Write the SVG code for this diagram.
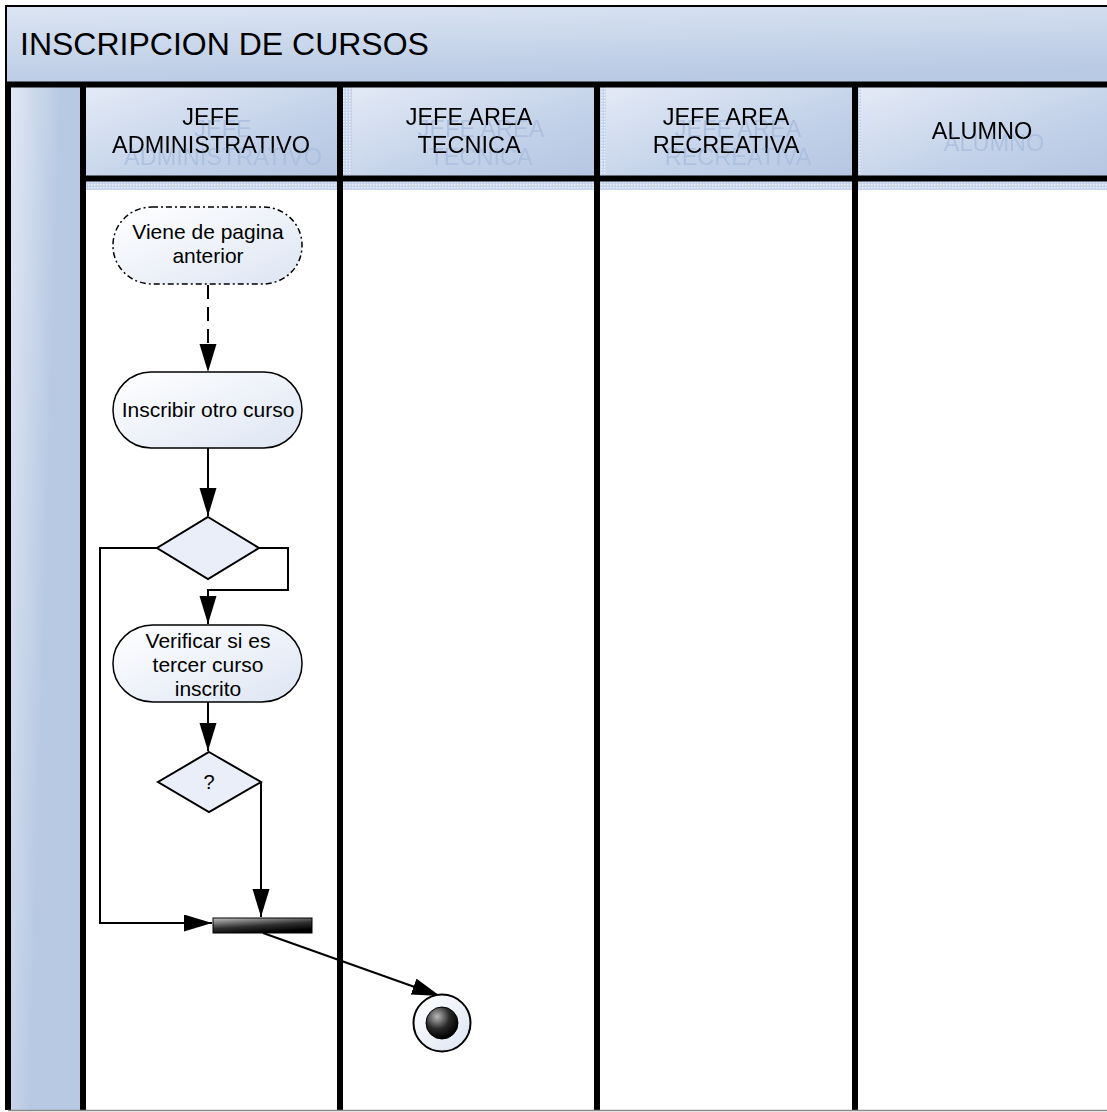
<svg xmlns="http://www.w3.org/2000/svg" width="1107" height="1112" viewBox="0 0 1107 1112">
  <style>
    .hdr { font-family: "Liberation Sans", Arial, sans-serif; font-size: 23.5px; fill: #000; text-anchor: middle; }
    .lbl { font-family: "Liberation Sans", Arial, sans-serif; font-size: 21px; fill: #000; text-anchor: middle; }
    .node { fill: url(#nodeFill); stroke: #000; stroke-width: 1.5; }
    .dia { fill: #e9eef8; stroke: #000; stroke-width: 2; }
    .conn { fill: none; stroke: #000; stroke-width: 2; }
    .div { stroke: #000; stroke-width: 6; }
  </style>
  <defs>
    <linearGradient id="hdrFill" x1="0" y1="0" x2="1" y2="1">
      <stop offset="0" stop-color="#e4eaf6"/>
      <stop offset="0.6" stop-color="#c3d2e9"/>
      <stop offset="1" stop-color="#b5c6e2"/>
    </linearGradient>
    <linearGradient id="titleFill" x1="0" y1="0" x2="0.3" y2="1">
      <stop offset="0" stop-color="#dce5f3"/>
      <stop offset="1" stop-color="#b9cae4"/>
    </linearGradient>
    <linearGradient id="colFill" x1="0" y1="0" x2="0.6" y2="0.25">
      <stop offset="0" stop-color="#e2e9f5"/>
      <stop offset="1" stop-color="#b8c9e3"/>
    </linearGradient>
    <linearGradient id="nodeFill" x1="0" y1="0" x2="1" y2="1">
      <stop offset="0" stop-color="#ffffff"/>
      <stop offset="1" stop-color="#dde5f3"/>
    </linearGradient>
    <linearGradient id="barFill" x1="0" y1="0" x2="0.45" y2="1">
      <stop offset="0" stop-color="#c4c4c4"/>
      <stop offset="0.6" stop-color="#303030"/>
      <stop offset="1" stop-color="#000000"/>
    </linearGradient>
    <radialGradient id="dotFill" cx="0.35" cy="0.3" r="0.7">
      <stop offset="0" stop-color="#b8b8b8"/>
      <stop offset="0.55" stop-color="#2a2a2a"/>
      <stop offset="1" stop-color="#000000"/>
    </radialGradient>
    <pattern id="grain" width="3" height="3" patternUnits="userSpaceOnUse">
      <rect width="3" height="3" fill="#c5d4ec"/>
      <rect x="1" y="1" width="1.5" height="1.5" fill="#eef3fa"/>
    </pattern>
    <!-- pale offset shadow behind the lane titles -->
    <filter id="titleShadow" filterUnits="userSpaceOnUse" x="80" y="86" width="1027" height="95">
      <feOffset in="SourceAlpha" dx="12" dy="12" result="off"/>
      <feFlood flood-color="#a7bcdd" flood-opacity="0.8"/>
      <feComposite in2="off" operator="in" result="shadow"/>
      <feMerge>
        <feMergeNode in="shadow"/>
        <feMergeNode in="SourceGraphic"/>
      </feMerge>
    </filter>
    <marker id="arrow" markerUnits="userSpaceOnUse" markerWidth="30" markerHeight="18" refX="28" refY="8.5" orient="auto">
      <path d="M0,0 L28,8.5 L0,17 Z" fill="#000"/>
    </marker>
  </defs>

  <rect width="1107" height="1112" fill="#fff"/>

  <!-- pool title bar -->
  <g id="pool-title">
    <rect x="6" y="6" width="1103" height="77" fill="url(#titleFill)" stroke="#000" stroke-width="2"/>
    <text x="20" y="55" font-family="'Liberation Sans', Arial, sans-serif" font-size="32" fill="#000">INSCRIPCION DE CURSOS</text>
  </g>

  <!-- left band of the pool -->
  <g id="pool-band">
    <rect x="8" y="86" width="75" height="1024" fill="url(#colFill)"/>
    <line x1="8" y1="84" x2="8" y2="1110" class="div"/>
  </g>

  <!-- lane headers -->
  <g id="lane-headers">
    <rect x="86" y="87" width="251" height="90" fill="url(#hdrFill)"/>
    <rect x="343" y="87" width="251" height="90" fill="url(#hdrFill)"/>
    <rect x="600" y="87" width="252" height="90" fill="url(#hdrFill)"/>
    <rect x="858" y="87" width="249" height="90" fill="url(#hdrFill)"/>
    <!-- shading texture along header edges -->
    <rect x="86" y="181" width="1021" height="9" fill="url(#grain)"/>
    <rect x="343" y="87" width="9" height="103" fill="url(#grain)"/>
    <rect x="600" y="87" width="6" height="103" fill="url(#grain)"/>
    <rect x="858" y="87" width="3" height="103" fill="url(#grain)"/>

    <g filter="url(#titleShadow)">
      <text class="hdr" x="211" y="125">JEFE</text>
      <text class="hdr" x="211" y="153">ADMINISTRATIVO</text>
      <text class="hdr" x="469" y="125">JEFE AREA</text>
      <text class="hdr" x="469" y="153">TECNICA</text>
      <text class="hdr" x="726" y="125">JEFE AREA</text>
      <text class="hdr" x="726" y="153">RECREATIVA</text>
      <text class="hdr" x="982" y="139">ALUMNO</text>
    </g>
  </g>

  <!-- lane separators -->
  <g id="lane-lines">
    <line x1="6" y1="84.5" x2="1107" y2="84.5" class="div" stroke-width="5"/>
    <line x1="83" y1="178.5" x2="1107" y2="178.5" class="div" stroke-width="5"/>
    <line x1="83" y1="84" x2="83" y2="1110" class="div"/>
    <line x1="340" y1="84" x2="340" y2="1110" class="div"/>
    <line x1="597" y1="84" x2="597" y2="1110" class="div"/>
    <line x1="855" y1="84" x2="855" y2="1110" class="div"/>
    <line x1="8" y1="1110.5" x2="1107" y2="1110.5" stroke="#8a8a8a" stroke-width="1.5"/>
  </g>

  <!-- connectors -->
  <g id="connectors">
    <path class="conn" d="M208,285 V372" stroke-dasharray="14 8" marker-end="url(#arrow)"/>
    <path class="conn" d="M208,448 V516" marker-end="url(#arrow)"/>
    <path class="conn" d="M259,548 H288 V590 H208 V624" marker-end="url(#arrow)"/>
    <path class="conn" d="M157,548 H100 V923 H212" marker-end="url(#arrow)"/>
    <path class="conn" d="M208,702 V751" marker-end="url(#arrow)"/>
    <path class="conn" d="M261,782 V917" marker-end="url(#arrow)"/>
    <path class="conn" d="M263,933 L440,996" marker-end="url(#arrow)"/>
  </g>

  <!-- nodes -->
  <g id="node-viene">
    <rect class="node" x="113" y="207" width="189" height="77" rx="39" ry="38" stroke-dasharray="6 3 2 3"/>
    <text class="lbl" x="208" y="239">Viene de pagina</text>
    <text class="lbl" x="208" y="263">anterior</text>
  </g>

  <g id="node-inscribir">
    <rect class="node" x="113" y="372" width="189" height="76" rx="38" ry="38"/>
    <text class="lbl" x="208" y="417">Inscribir otro curso</text>
  </g>

  <g id="node-decision1">
    <polygon class="dia" points="208,517 259,548 208,579 157,548"/>
  </g>

  <g id="node-verificar">
    <rect class="node" x="113" y="625" width="189" height="77" rx="40" ry="38"/>
    <text class="lbl" x="208" y="648">Verificar si es</text>
    <text class="lbl" x="208" y="672">tercer curso</text>
    <text class="lbl" x="208" y="696">inscrito</text>
  </g>

  <g id="node-decision2">
    <polygon class="dia" points="209,752 261,782 209,812 158,782"/>
    <text x="209" y="789" font-family="'Liberation Sans', Arial, sans-serif" font-size="20" text-anchor="middle" fill="#000">?</text>
  </g>

  <g id="node-join">
    <rect x="213" y="918" width="99" height="15" fill="url(#barFill)" stroke="#000" stroke-width="1"/>
  </g>

  <g id="node-final">
    <circle cx="442" cy="1023" r="28.5" fill="url(#nodeFill)" stroke="#000" stroke-width="2"/>
    <circle cx="442" cy="1023" r="16" fill="url(#dotFill)" stroke="#000" stroke-width="1"/>
  </g>
</svg>
